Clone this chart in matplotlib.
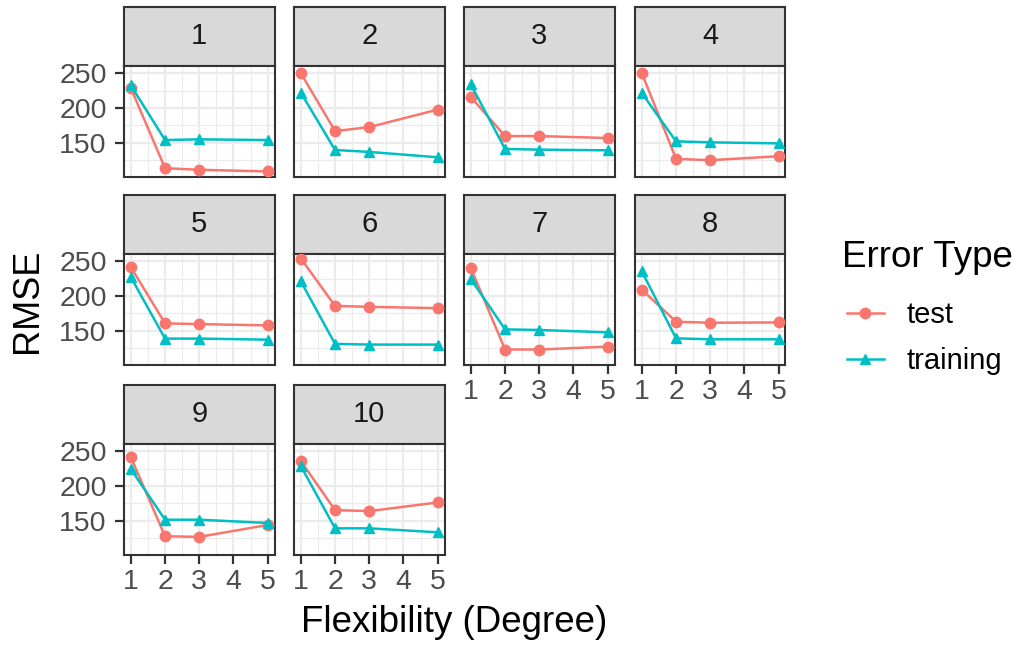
import numpy as np
import matplotlib.pyplot as plt
from matplotlib.ticker import FixedLocator

plt.rcParams['font.family'] = ['Liberation Sans', 'DejaVu Sans']

folds = [1, 2, 3, 4, 5, 6, 7, 8, 9, 10]
degrees = [1, 2, 3, 5]
test_rmse = [
    [228.6, 113.3, 111.0, 108.6],
    [250.0, 166.7, 172.4, 197.6],
    [215.7, 159.5, 159.5, 156.7],
    [250.0, 126.7, 124.8, 130.5],
    [241.4, 160.5, 159.5, 157.6],
    [253.8, 185.7, 184.3, 182.4],
    [240.0, 122.9, 122.9, 127.1],
    [209.0, 162.9, 161.4, 161.9],
    [241.4, 127.6, 126.7, 143.8],
    [235.7, 165.2, 163.8, 176.2],
]
train_rmse = [
    [232.4, 153.8, 154.8, 153.8],
    [221.9, 139.5, 136.7, 129.0],
    [233.8, 141.0, 140.0, 139.0],
    [221.4, 151.9, 150.5, 149.0],
    [227.1, 138.6, 138.6, 137.1],
    [221.0, 131.0, 130.0, 130.0],
    [224.3, 151.9, 151.0, 147.6],
    [235.2, 139.0, 137.6, 137.6],
    [224.3, 151.4, 151.4, 146.7],
    [228.6, 139.0, 139.0, 133.3],
]
series_names = ['test', 'training']
series_colors = ['#F8766D', '#00BFC4']
series_markers = ['o', '^']

W, H = 1017, 645
fig = plt.figure(figsize=(W / 100, H / 100), dpi=100)

def rect(l, t, w, h):
    return [l / W, 1 - (t + h) / H, w / W, h / H]

col_left = [124, 294, 464, 635]
strip_top = [7, 195, 385]
pw, sh, ph = 150.5, 58.5, 111

allv = np.array(test_rmse + train_rmse)
lo, hi = allv.min(), allv.max()
pad = (hi - lo) * 0.05
ylim = (lo - pad, hi + pad)

dark = '#333333'
handles = None
for i, f in enumerate(folds):
    r, c = divmod(i, 4)
    left = col_left[c]
    top = strip_top[r]
    sax = fig.add_axes(rect(left, top, pw, sh))
    sax.set_facecolor('#D9D9D9')
    sax.set_xticks([]); sax.set_yticks([])
    for s in sax.spines.values():
        s.set_color(dark); s.set_linewidth(1.5)
    sax.text(0.5, 0.5, str(f), ha='center', va='center', fontsize=21,
             color='#1A1A1A', transform=sax.transAxes)

    ax = fig.add_axes(rect(left, top + sh, pw, ph))
    lines = []
    for vals, name, col, mk in zip([test_rmse[i], train_rmse[i]], series_names,
                                   series_colors, series_markers):
        ln, = ax.plot(degrees, vals, color=col, marker=mk, markersize=7.5,
                      linewidth=1.8, label=name, zorder=3)
        lines.append(ln)
    handles = lines
    ax.set_xlim(0.8, 5.2)
    ax.set_ylim(*ylim)
    ax.xaxis.set_major_locator(FixedLocator([1, 2, 3, 4, 5]))
    ax.xaxis.set_minor_locator(FixedLocator([1.5, 2.5, 3.5, 4.5]))
    ax.yaxis.set_major_locator(FixedLocator([150, 200, 250]))
    ax.yaxis.set_minor_locator(FixedLocator([125, 175, 225]))
    ax.grid(which='major', color='#EBEBEB', linewidth=1.6)
    ax.grid(which='minor', color='#EBEBEB', linewidth=0.8)
    ax.set_axisbelow(True)
    for s in ax.spines.values():
        s.set_color(dark); s.set_linewidth(1.5)
    ax.tick_params(which='minor', length=0)
    ax.tick_params(which='major', length=6.5, width=1.6, color=dark,
                   labelsize=20.5, labelcolor='#4D4D4D')
    ax.tick_params(axis='y', pad=6)
    ax.tick_params(axis='x', pad=4)
    bottom = (i + 4 >= len(folds))
    if not bottom:
        ax.tick_params(axis='x', length=0, labelbottom=False)
    if c != 0:
        ax.tick_params(axis='y', length=0, labelleft=False)

fig.text(27 / W, 1 - 301 / H, 'RMSE', rotation=90, ha='center', va='center',
         fontsize=26, color='black')
fig.text(454 / W, 1 - 622 / H, 'Flexibility (Degree)', ha='center', va='center',
         fontsize=26.5, color='black')

fig.text(842 / W, 1 - 267 / H, 'Error Type', ha='left', va='baseline',
         fontsize=26.5, color='black')
leg = fig.legend(handles, series_names, loc='upper left',
                 bbox_to_anchor=(846.5 / W, 1 - 301 / H), frameon=False,
                 fontsize=21, handlelength=1.3, handletextpad=0.75,
                 labelspacing=0.62, numpoints=1, borderpad=0, borderaxespad=0)

fig.savefig('out.png', dpi=100)
